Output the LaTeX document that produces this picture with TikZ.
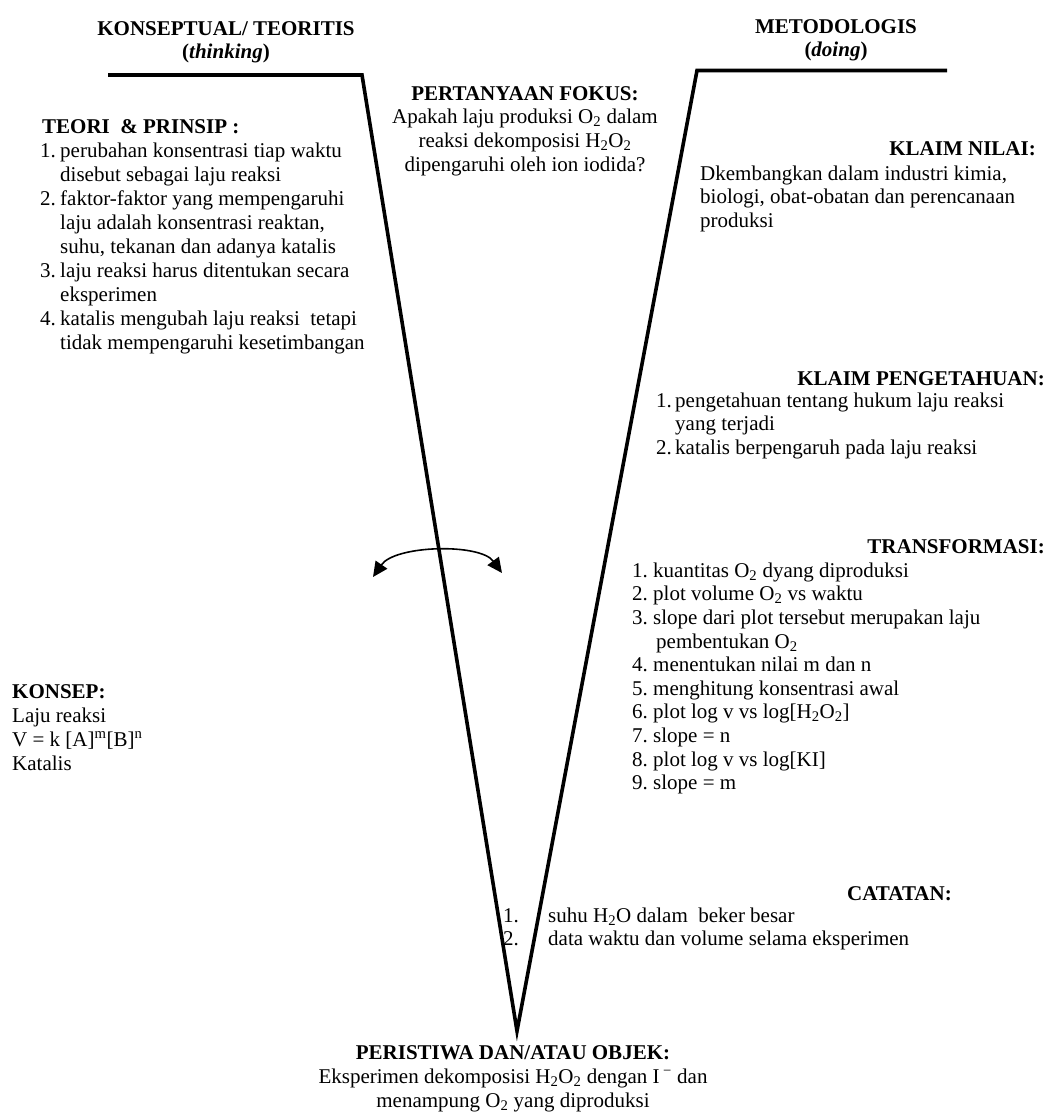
\documentclass[tikz,border=0pt]{standalone}
\usepackage{fontspec}
\setmainfont{Liberation Serif}
\usetikzlibrary{arrows.meta}
\newcommand{\sub}[1]{\textsubscript{#1}}
\newcommand{\nbox}[2]{\makebox[#1][l]{#2}}
\begin{document}
\begin{tikzpicture}[x=1pt,y=-1pt,
  txt/.style={inner sep=0pt, font=\fontsize{21}{23.6}\selectfont, align=left},
  hd/.style={inner sep=0pt, font=\fontsize{21}{23.6}\selectfont\bfseries},
  vline/.style={line width=3.6pt, line join=miter},
  arc/.style={line width=1.6pt, {Triangle[length=15pt,width=14pt]}-{Triangle[length=15pt,width=14pt]}}]
\useasboundingbox (0,0) rectangle (1050,1112);

% corner points of the V
\coordinate (lbarL) at (108,75);
\coordinate (lbarR) at (362,75);
\coordinate (bottom) at (517,1031);
\coordinate (rbarL) at (697,70.5);
\coordinate (rbarR) at (947,70.5);

% titles
\node[txt, font=\fontsize{21}{23}\selectfont\bfseries, align=center, anchor=north] (tleft) at (226,18.9)
  {\strut KONSEPTUAL/ TEORITIS\\(\textit{thinking})};
\node[txt, font=\fontsize{21}{23}\selectfont\bfseries, align=center, anchor=north] (tright) at (836,16.9)
  {\strut METODOLOGIS\\(\textit{doing})};

% focus question
\node[txt, align=center, anchor=north] (focus) at (525,83.5)
  {\strut\textbf{PERTANYAAN FOKUS:}\\Apakah laju produksi O\sub{2} dalam\\reaksi dekomposisi H\sub{2}O\sub{2}\\dipengaruhi oleh ion iodida?};

% teori & prinsip
\node[hd, anchor=base west] (teorih) at (42,133) {TEORI\ \ \& PRINSIP :};
\node[txt, font=\fontsize{21}{24}\selectfont, anchor=north west] (teori) at (40,140.2)
  {\strut\nbox{20pt}{1.}perubahan konsentrasi tiap waktu\\
   \nbox{20pt}{}disebut sebagai laju reaksi\\
   \nbox{20pt}{2.}faktor-faktor yang mempengaruhi\\
   \nbox{20pt}{}laju adalah konsentrasi reaktan,\\
   \nbox{20pt}{}suhu, tekanan dan adanya katalis\\
   \nbox{20pt}{3.}laju reaksi harus ditentukan secara\\
   \nbox{20pt}{}eksperimen\\
   \nbox{20pt}{4.}katalis mengubah laju reaksi \ tetapi\\
   \nbox{20pt}{}tidak mempengaruhi kesetimbangan};

% klaim nilai
\node[hd, anchor=base east] (nilaih) at (1036,155) {KLAIM NILAI:};
\node[txt, anchor=north west] (nilai) at (700,163.5)
  {\strut Dkembangkan dalam industri kimia,\\biologi, obat-obatan dan perencanaan\\produksi};

% klaim pengetahuan
\node[hd, anchor=base east] (pengh) at (1045,385) {KLAIM PENGETAHUAN:};
\node[txt, anchor=north west] (peng) at (656,390.5)
  {\strut\nbox{19pt}{1.}pengetahuan tentang hukum laju reaksi\\
   \nbox{19pt}{}yang terjadi\\
   \nbox{19pt}{2.}katalis berpengaruh pada laju reaksi};

% transformasi
\node[hd, anchor=base east] (transh) at (1045,553) {TRANSFORMASI:};
\node[txt, anchor=north west] (trans) at (632,560.5)
  {\strut\nbox{21pt}{1.}kuantitas O\sub{2} dyang diproduksi\\
   \nbox{21pt}{2.}plot volume O\sub{2} vs waktu\\
   \nbox{21pt}{3.}slope dari plot tersebut merupakan laju\\
   \nbox{24pt}{}pembentukan O\sub{2}\\
   \nbox{21pt}{4.}menentukan nilai m dan n\\
   \nbox{21pt}{5.}menghitung konsentrasi awal\\
   \nbox{21pt}{6.}plot log v vs log[H\sub{2}O\sub{2}]\\
   \nbox{21pt}{7.}slope = n\\
   \nbox{21pt}{8.}plot log v vs log[KI]\\
   \nbox{21pt}{9.}slope = m};

% konsep
\node[txt, font=\fontsize{21}{24}\selectfont, anchor=north west] (konsep) at (12,681.2)
  {\strut\textbf{KONSEP:}\\Laju reaksi\\V = k [A]\textsuperscript{m}[B]\textsuperscript{n}\\Katalis};

% catatan
\node[hd, anchor=base east] (catath) at (952,900) {CATATAN:};
\node[txt, anchor=north west] (catat) at (503,905.5)
  {\strut\nbox{45pt}{1.}suhu H\sub{2}O dalam \ beker besar\\
   \nbox{45pt}{2.}data waktu dan volume selama eksperimen};

% peristiwa
\node[txt, font=\fontsize{21}{24}\selectfont, align=center, anchor=north] (peristiwa) at (513,1042.2)
  {\strut\textbf{PERISTIWA DAN/ATAU OBJEK:}\\Eksperimen dekomposisi H\sub{2}O\sub{2} dengan I\,\textsuperscript{−} dan\\menampung O\sub{2} yang diproduksi};

% V shape
\draw[vline] (lbarL) -- (lbarR) -- (bottom) -- (rbarL) -- (rbarR);

% curved double arrow
\coordinate (arcL) at (373,577);
\coordinate (arcR) at (502,573);
\draw[arc] (arcL) .. controls (395,545) and (480,543) .. (arcR);
\end{tikzpicture}
\end{document}
